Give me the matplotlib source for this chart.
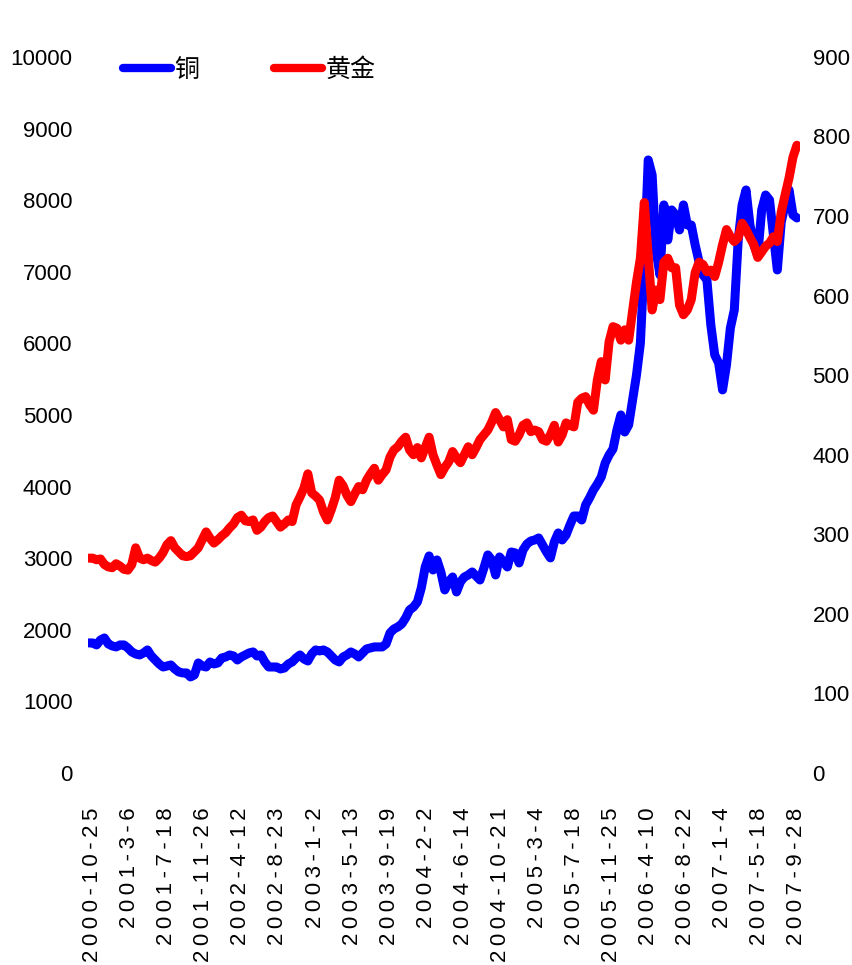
import matplotlib
matplotlib.use("Agg")
import matplotlib.pyplot as plt
import numpy as np

# x tick labels (dates)
dates = ["2000-10-25", "2001-3-6", "2001-7-18", "2001-11-26", "2002-4-12", "2002-8-23",
         "2003-1-2", "2003-5-13", "2003-9-19", "2004-2-2", "2004-6-14", "2004-10-21",
         "2005-3-4", "2005-7-18", "2005-11-25", "2006-4-10", "2006-8-22", "2007-1-4",
         "2007-5-18", "2007-9-28"]

# copper (left axis) at even steps
copper = [1816, 1816, 1788, 1857, 1885, 1802, 1774, 1760, 1788, 1788, 1746, 1690, 1662, 1648, 1676,
          1718, 1634, 1578, 1522, 1480, 1494, 1508, 1452, 1411, 1397, 1397, 1341, 1369, 1536, 1494,
          1480, 1550, 1522, 1536, 1606, 1620, 1648, 1634, 1578, 1620, 1648, 1676, 1690, 1634, 1648,
          1550, 1480, 1480, 1480, 1452, 1466, 1522, 1550, 1606, 1648, 1592, 1564, 1662, 1718, 1704,
          1718, 1690, 1634, 1578, 1550, 1620, 1648, 1690, 1662, 1620, 1676, 1732, 1746, 1760, 1760,
          1760, 1802, 1955, 2011, 2039, 2081, 2165, 2276, 2318, 2388, 2584, 2877, 3031, 2835, 2975,
          2807, 2556, 2668, 2737, 2528, 2668, 2737, 2765, 2807, 2751, 2695, 2863, 3045, 2975, 2765,
          3017, 2947, 2877, 3086, 3073, 2933, 3114, 3198, 3240, 3254, 3282, 3184, 3086, 3003, 3226,
          3352, 3254, 3324, 3464, 3589, 3589, 3533, 3743, 3841, 3952, 4036, 4134, 4329, 4441, 4525,
          4790, 5000, 4762, 4860, 5209, 5558, 6005, 7165, 8561, 8352, 7304, 6955, 7933, 7444, 7863,
          7793, 7584, 7933, 7653, 7653, 7374, 7137, 6955, 6885, 6257, 5838, 5726, 5350, 5698, 6215,
          6466, 7444, 7933, 8142, 7653, 7374, 7234, 7863, 8072, 8003, 7514, 7025, 7695, 7933, 8142,
          7793, 7751]

# gold (right axis)
gold = [270, 270, 268, 269, 262, 259, 258, 263, 260, 256, 255, 262, 283, 270, 268,
        270, 267, 265, 270, 277, 287, 292, 283, 278, 273, 272, 273, 278, 283, 293,
        303, 295, 289, 293, 298, 302, 308, 313, 321, 324, 317, 316, 318, 305, 309,
        316, 321, 323, 316, 309, 313, 318, 316, 337, 347, 358, 376, 352, 348, 343,
        328, 318, 331, 346, 368, 361, 349, 341, 351, 360, 356, 368, 376, 383, 368,
        375, 381, 397, 406, 410, 417, 422, 406, 400, 409, 396, 409, 422, 400, 387,
        375, 384, 391, 404, 396, 390, 400, 410, 400, 409, 419, 425, 431, 441, 453,
        444, 435, 444, 419, 417, 425, 437, 440, 429, 431, 429, 419, 417, 425, 437,
        416, 425, 440, 437, 435, 466, 471, 473, 463, 456, 494, 517, 494, 542, 561,
        559, 544, 557, 544, 580, 617, 647, 717, 649, 582, 607, 595, 642, 647, 635,
        635, 588, 576, 582, 595, 629, 642, 639, 630, 632, 624, 642, 664, 683, 674,
        668, 673, 691, 683, 673, 664, 648, 655, 662, 666, 674, 668, 705, 727, 748,
        774, 789]

left_ticks = list(range(0, 10001, 1000))
right_ticks = list(range(0, 901, 100))

NUM = ["Liberation Sans", "DejaVu Sans"]
CJK = ["Noto Sans CJK SC", "DejaVu Sans"]

fig = plt.figure(figsize=(8.52, 9.65), dpi=100)
ax = fig.add_axes([0.103, 0.199, 0.836, 0.742])
ax2 = ax.twinx()

t = np.arange(len(copper))
l1, = ax.plot(t, copper, color="#0000FF", lw=6.5, solid_capstyle="round", solid_joinstyle="round")
l2, = ax2.plot(np.arange(len(gold)), gold, color="#FF0000", lw=6.5, solid_capstyle="round", solid_joinstyle="round")

ax.set_xlim(-0.25, 181.8)
ax.set_ylim(0, 10000); ax2.set_ylim(0, 900)
ax.set_yticks(left_ticks); ax2.set_yticks(right_ticks)
ax.set_yticklabels([str(v) for v in left_ticks], family=NUM, fontsize=16)
ax2.set_yticklabels([str(v) for v in right_ticks], family=NUM, fontsize=16)

# the original spreads the date characters out a little
ax.set_xticks(np.linspace(1, 181, len(dates)))
ax.set_xticklabels(["\u2009".join(d) for d in dates], rotation=90, ha="center", va="top",
                   family=NUM, fontsize=16)

ax.tick_params(axis="x", length=0, pad=25)
ax.tick_params(axis="y", length=0, pad=11)
ax2.tick_params(axis="y", length=0, pad=9)
for a in (ax, ax2):
    for s in a.spines.values():
        s.set_visible(False)

leg = ax2.legend([l1, l2], ["铜", "黄金"], loc="center left", bbox_to_anchor=(0.032, 0.982),
                 ncol=2, frameon=False, handlelength=1.9, handletextpad=0.15, columnspacing=3.0,
                 borderpad=0, prop={"family": CJK, "size": 18})
for h in leg.get_lines():
    h.set_linewidth(6)

fig.savefig("out.png", dpi=100)
